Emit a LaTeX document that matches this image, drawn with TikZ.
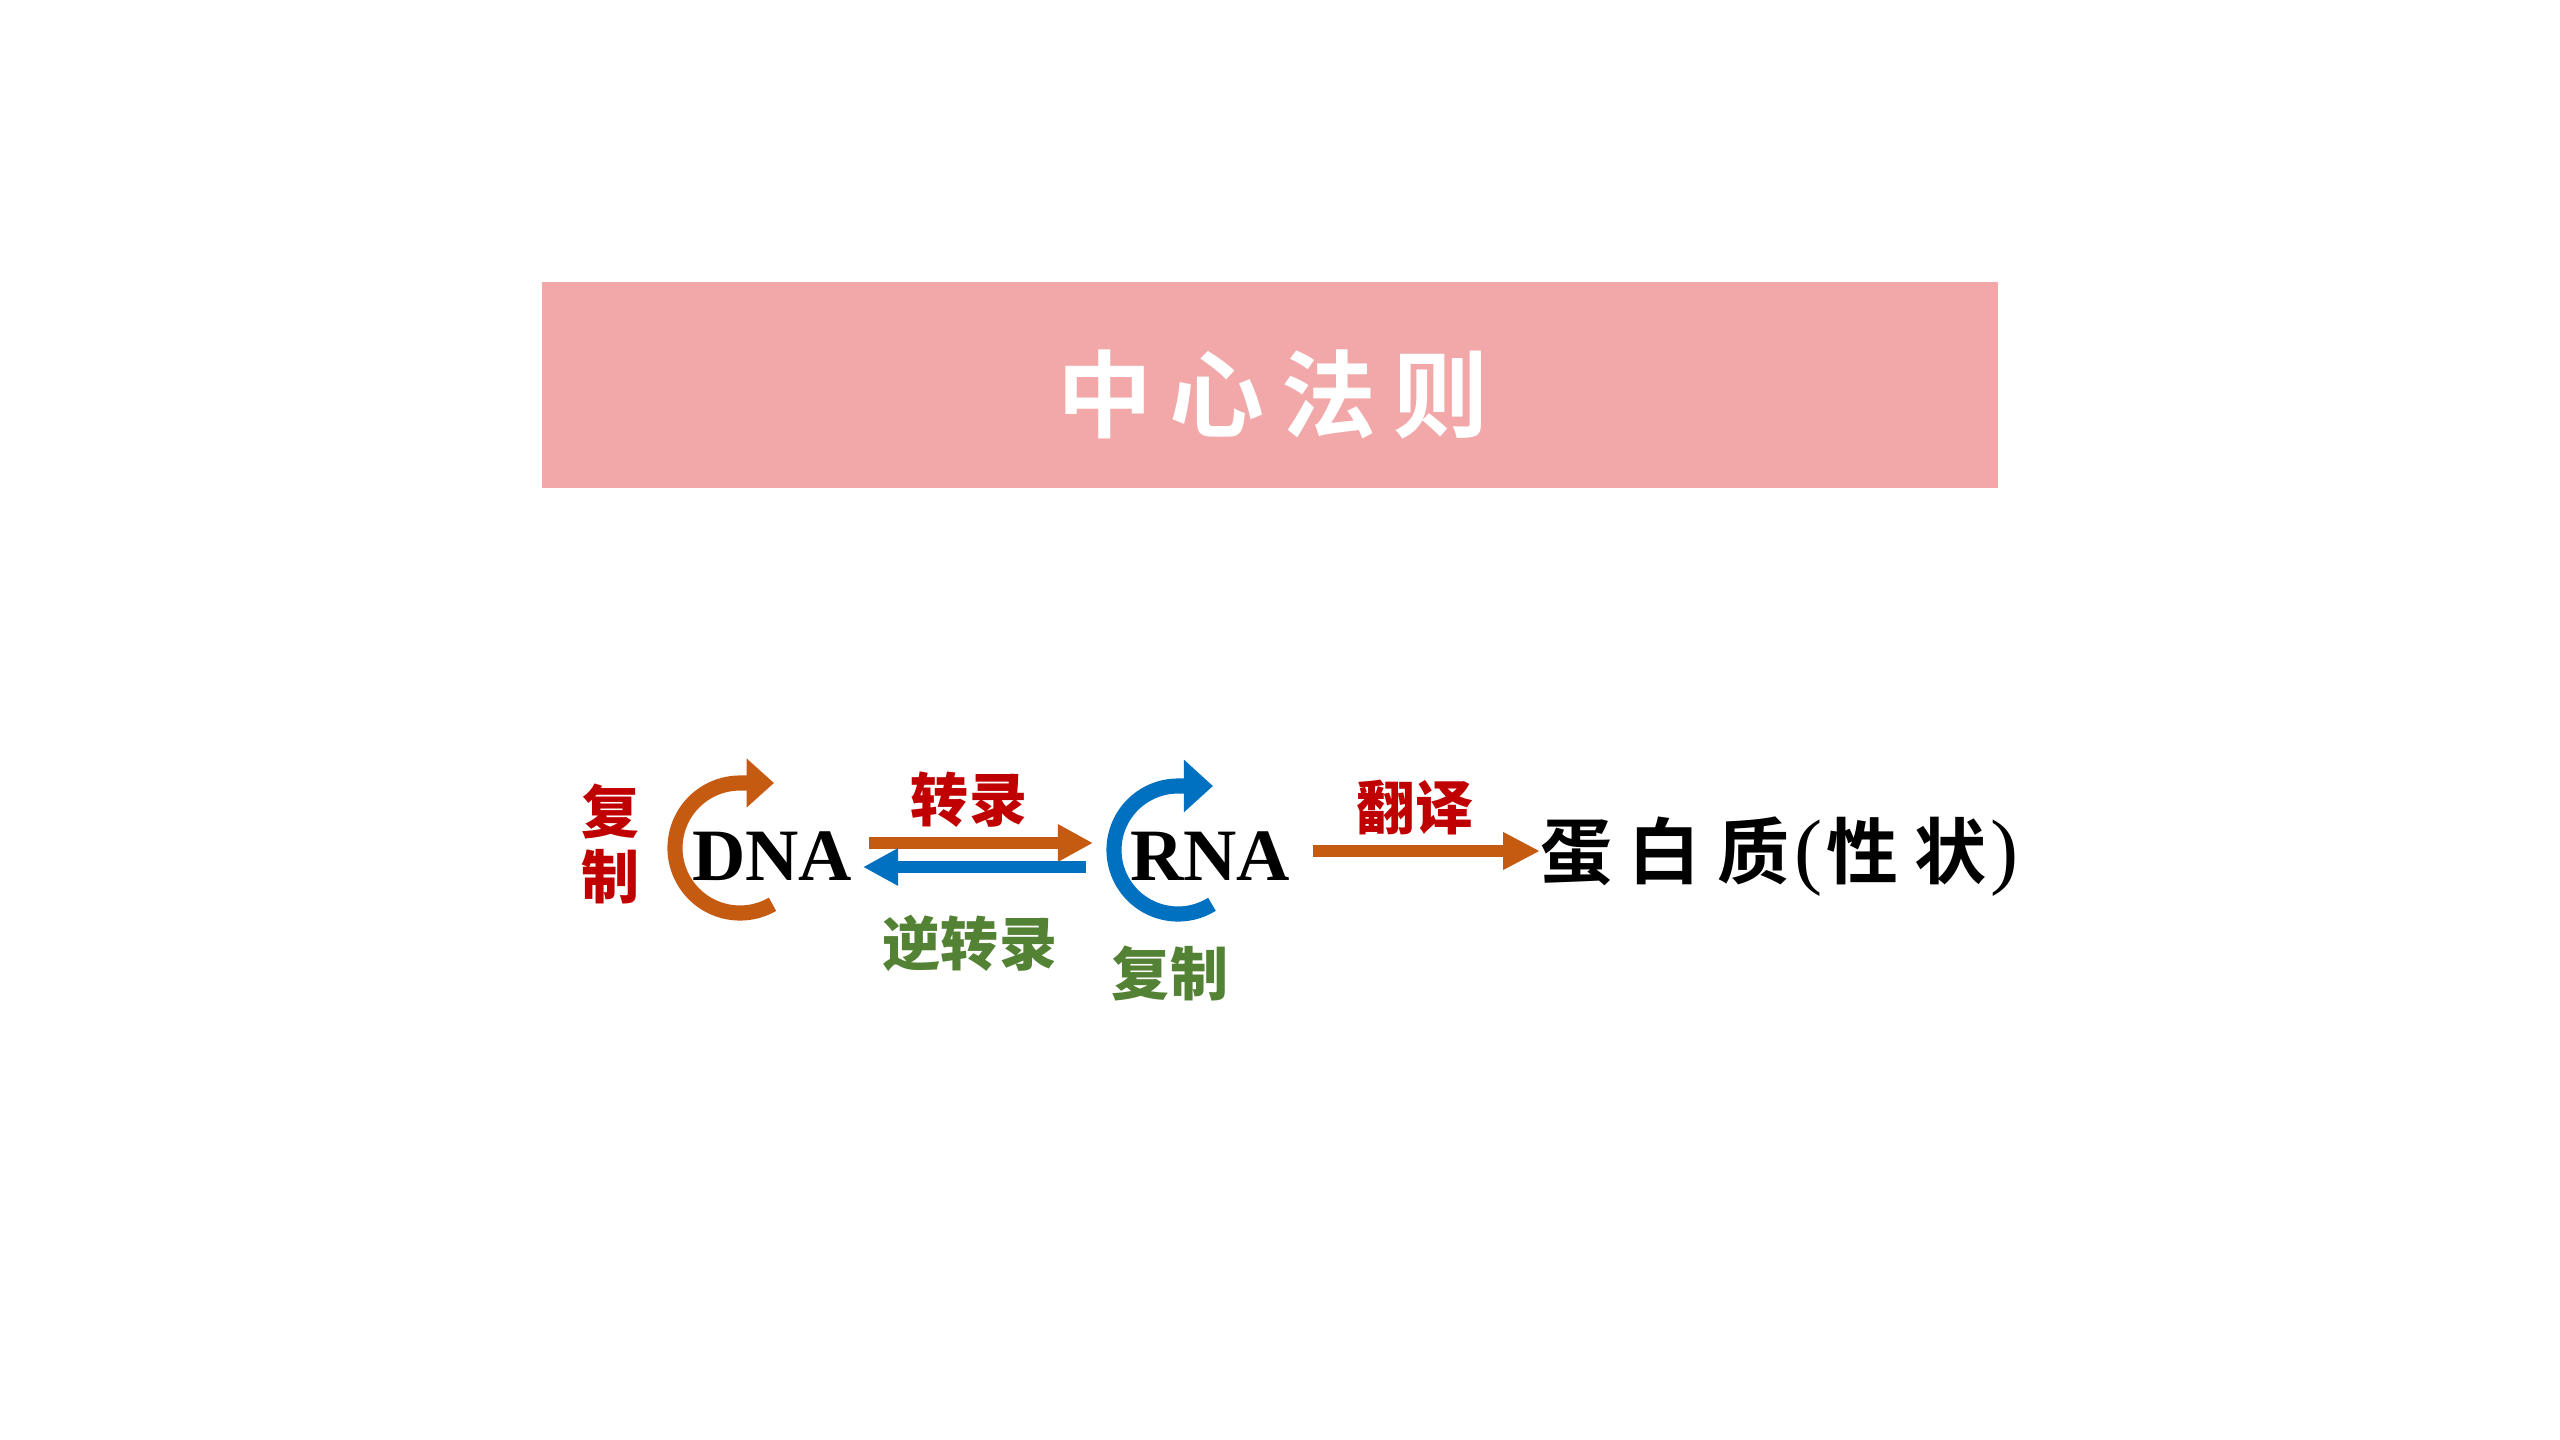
\documentclass[tikz,border=0pt]{standalone}
\usepackage{fontspec}
\setmainfont{Liberation Serif}
\newfontfamily\cjkb{Noto Sans CJK SC Bold}
\newfontfamily\cjkh{Noto Sans CJK SC Black}
\usetikzlibrary{arrows.meta}
\definecolor{pinkbg}{HTML}{F2A7A8}
\definecolor{orangeC}{HTML}{C55A11}
\definecolor{blueC}{HTML}{0070C0}
\definecolor{redC}{HTML}{C00000}
\definecolor{greenC}{HTML}{548235}
\newcommand{\thinparen}[1]{{\rmfamily\mdseries\fontsize{24pt}{24pt}\selectfont #1}}
\tikzset{
  banner/.style={fill=pinkbg, draw=none, minimum width=14.56cm, minimum height=2.06cm, inner sep=0pt},
  titletext/.style={text=white, inner sep=0pt, font=\cjkb\fontsize{27pt}{27pt}\selectfont},
  molecule/.style={inner sep=0pt, anchor=base, font=\bfseries\fontsize{21pt}{21pt}\selectfont},
  product/.style={inner sep=0pt, font=\cjkb\fontsize{20.5pt}{20.5pt}\selectfont},
  proclabel/.style={inner sep=0pt, font=\cjkh\fontsize{16.5pt}{18.5pt}\selectfont},
  fatarrow/.style={line width=3.4pt, -{Triangle[width=10pt,length=10pt]}},
  looparrow/.style={line width=4.3pt, -{Triangle[width=13.5pt,length=7.8pt]}}
}
\begin{document}
\begin{tikzpicture}[x=0.01cm,y=0.01cm]
\useasboundingbox (0,0) rectangle (2560,-1440);
\fill[white] (0,0) rectangle (2560,-1440);
% title banner
\node[banner] (bar) at (1270,-385) {};
\node[titletext] (title) at (1273,-394) {中\kern4.8pt 心\kern4.8pt 法\kern4.8pt 则};
% molecules
\node[molecule] (dna) at (772,-880) {DNA};
\node[molecule] (rna) at (1210,-880) {RNA};
\node[product, anchor=west] (prot) at (1540,-857) {蛋\kern4.6pt 白\kern4.6pt 质\kern1.5pt\thinparen{(}\kern1pt 性\kern4.6pt 状\kern1pt\thinparen{)}};
% replication loops
\coordinate (dnaloop) at (740,-848);
\coordinate (rnaloop) at (1178,-850);
\draw[looparrow, orangeC] ([shift={(-60:65)}]dnaloop) arc[start angle=-60, end angle=-270, radius=65] -- ++(34,0);
\draw[looparrow, blueC, -{Triangle[width=14.5pt,length=8.3pt]}] ([shift={(-58:64)}]rnaloop) arc[start angle=-58, end angle=-270, radius=64] -- ++(35,0);
% transcription / reverse transcription / translation
\coordinate (tr1) at (869,-843);
\coordinate (tr2) at (1093,-843);
\coordinate (rt1) at (1086,-867);
\coordinate (rt2) at (863,-867);
\coordinate (tl1) at (1313,-851);
\coordinate (tl2) at (prot.west |- tl1);
\draw[fatarrow, orangeC] (tr1) -- (tr2);
\draw[fatarrow, blueC] (rt1) -- (rt2);
\draw[fatarrow, orangeC, line width=3.2pt, -{Triangle[width=10pt,length=10.5pt]}] (tl1) -- (tl2);
% labels
\node[proclabel, text=redC, align=center] (dnarep) at (611,-844) {复\\制};
\node[proclabel, text=redC] (trlab) at (969,-800) {转录};
\node[proclabel, text=greenC] (rtlab) at (970,-943) {逆转录};
\node[proclabel, text=greenC] (rnarep) at (1170,-973) {复制};
\node[proclabel, text=redC] (tllab) at (1415,-807) {翻译};
\end{tikzpicture}
\end{document}
